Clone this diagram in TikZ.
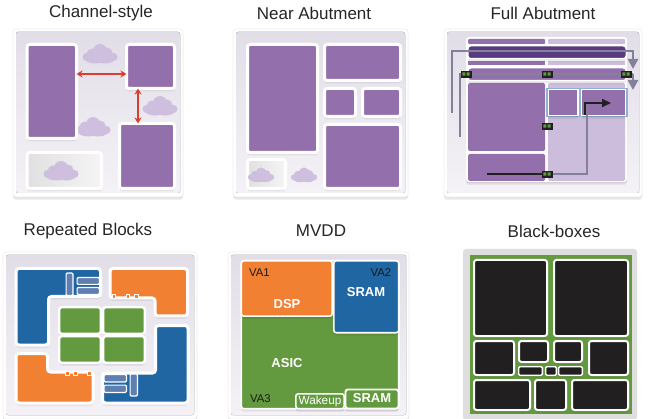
\documentclass[tikz,border=0pt]{standalone}
\usepackage{fontspec}
\setmainfont{Liberation Sans}
\usetikzlibrary{shadows,arrows.meta}
\definecolor{cpur}{HTML}{9370AC}
\definecolor{cdark}{HTML}{573A80}
\definecolor{clight}{HTML}{CDBDDC}
\definecolor{cblue}{HTML}{1F66A3}
\definecolor{cslate}{HTML}{5F7FB0}
\definecolor{corg}{HTML}{F28032}
\definecolor{cgrn}{HTML}{649A3F}
\definecolor{cblk}{HTML}{221F20}
\definecolor{cred}{HTML}{E03C2E}
\definecolor{ccld}{HTML}{CDBFDD}
\definecolor{cwire}{HTML}{85809A}
\definecolor{ctop}{HTML}{E2DEE8}
\definecolor{cbot}{HTML}{F4F2F6}
\definecolor{cframeb}{HTML}{8FB3CF}
\tikzset{
  softshadow/.style={general shadow={fill=black,opacity=.06,shadow yshift=-3pt},general shadow={fill=black,opacity=.08,shadow yshift=-1.5pt}},
  frame/.style={fill=white,draw=black!6,line width=.8pt,rounded corners=3pt,softshadow},
  blk/.style={draw=white,line width=3pt,rounded corners=2.5pt,inner sep=0pt,outer sep=0pt,softshadow},
  purp/.style={blk,fill=cpur},
  graybox/.style={blk,left color=black!12,right color=black!4},
  dark/.style={blk,fill=cblk,line width=2pt},
  thindark/.style={dark,line width=1.4pt,rounded corners=1.2pt},
  poly/.style={draw=white,line width=3pt,rounded corners=3pt,softshadow},
  mini/.style={draw=white,fill=cslate,line width=1.2pt,rounded corners=1pt,inner sep=0pt,outer sep=0pt},
  tab/.style={draw=white,fill=corg,line width=.8pt,inner sep=0pt,minimum size=3.6pt},
  title/.style={inner sep=0pt,text=black!85,font=\fontsize{17}{18}\selectfont},
  va/.style={inner sep=0pt,text=black!90,font=\fontsize{11.3}{12}\selectfont},
  wlab/.style={inner sep=0pt,text=white,font=\bfseries\fontsize{13}{14}\selectfont},
  redarrow/.style={cred,line width=1.2pt,{Stealth[length=6pt,width=7pt]}-{Stealth[length=6pt,width=7pt]}},
  wire/.style={cwire,line width=2.8pt},
  wirearrow/.style={wire,-{Triangle[length=10pt,width=10pt]}},
  blackwire/.style={cblk,line width=1.9pt},
  swb/.style={draw=cblk,fill=cblk,inner sep=0pt,minimum width=10pt,minimum height=5.6pt,outer sep=0pt},
  cell/.style={blk,fill=cpur,line width=1.2pt,rounded corners=0pt},
}
% [style]{name}{x1}{y1}{x2}{y2}: box by outer extents of its border
\newcommand\bx[6][purp]{\node[#1,minimum width={(#5-#3)*1pt-\pgflinewidth},minimum height={(#6-#4)*1pt-\pgflinewidth}] (#2) at ({(#3+#5)/2},{(#4+#6)/2}) {};}
\newcommand\cld[3][1]{\begin{scope}[shift={(#2,#3)},scale=#1]
  \fill[ccld] (0,-3) circle[radius=7] (-8,0) circle[radius=5.5] (7,-1) circle[radius=5.5] (-5,3.5) ellipse[x radius=11,y radius=6] (5,3.5) ellipse[x radius=11,y radius=6] (-13.5,3) circle[radius=4] (13.5,3) circle[radius=4];
\end{scope}}
\newcommand\swi[3]{\node[swb] (#1) at (#2,#3) {};
  \fill[cgrn] (#2-3.6,#3-1.7) rectangle (#2-.7,#3+1.7) (#2+.7,#3-1.7) rectangle (#2+3.6,#3+1.7);}
\newcommand\panel[4]{\draw[frame] (#1,#2) rectangle (#3,#4);
  \fill[rounded corners=2pt,top color=ctop,bottom color=cbot] (#1+3,#2+3) rectangle (#3-3,#4-4);}
\begin{document}
\begin{tikzpicture}[x=1pt,y=-1pt]
\useasboundingbox (0,0) rectangle (650,419);
\fill[white] (0,0) rectangle (650,419);
% ---- titles
\node[title] (t1) at (101,13) {Channel-style};
\node[title] (t2) at (314,13) {Near Abutment};
\node[title] (t3) at (543,13) {Full Abutment};
\node[title] (t4) at (88,231) {Repeated Blocks};
\node[title] (t5) at (321,231) {MVDD};
\node[title] (t6) at (554,231) {Black-boxes};
% ---- Channel-style
\panel{13}{29}{183}{197}
\cld{100}{54}\cld{160}{106}\cld{93}{127}
\bx{a1}{25.5}{43}{78}{140}
\bx{a2}{125}{43}{176}{90}
\bx{a3}{118}{122}{176}{190}
\bx[graybox]{a4}{25.5}{151}{103}{190}
\cld{61}{171}
\coordinate (a1r) at (a1.east |- 0,74);
\coordinate (a2l) at (a2.west |- 0,74);
\coordinate (a2b) at (a2.south -| 138,0);
\coordinate (a3t) at (a3.north -| 138,0);
\draw[redarrow] (a1r) -- (a2l);
\draw[redarrow] (a2b) -- (a3t);
% ---- Near Abutment
\panel{233}{29}{408}{197}
\bx{b1}{246}{43}{319}{154}
\bx{b2}{323}{43}{402}{82}
\bx{b3}{323}{87}{357}{118}
\bx{b4}{361}{87}{402}{118}
\bx{b5}{323}{123}{402}{190}
\bx[graybox]{b6}{246}{158}{287}{190}
\cld[.75]{261}{175}\cld[.75]{304}{175}
% ---- Full Abutment
\panel{444}{29}{642}{197}
\fill[white,rounded corners=3pt,softshadow] (466,37) rectangle (627,182);
\fill[cpur,rounded corners=1pt] (468,39) rectangle (545,44);
\fill[clight,rounded corners=1pt] (548,39) rectangle (625,44);
\fill[cpur] (468,61) rectangle (545,65);
\fill[clight] (548,61) rectangle (625,65);
\fill[cpur,rounded corners=1.5pt] (468,83) rectangle (545,151);
\fill[cpur,rounded corners=1.5pt] (468,154) rectangle (545,181);
\fill[clight,rounded corners=1.5pt] (548,83) rectangle (625,181);
\bx[blk,fill=cdark,line width=1.5pt,rounded corners=3pt]{c1}{467}{45}{627}{59.5}
\bx[blk,fill=cpur,line width=1.5pt,rounded corners=3pt]{c2}{467}{67}{627}{81.5}
\fill[cframeb] (546,88) rectangle (627.5,117.5);
\bx[cell]{c3}{547.5}{89}{578.5}{116.5}
\bx[cell]{c4}{581}{89}{626}{116.5}
\coordinate (w1a) at (452,113);
\coordinate (w1b) at (452,51);
\coordinate (w1c) at (633,51);
\coordinate (w1d) at (633,69);
\draw[wirearrow] (w1a) -- (w1b) -- (w1c) -- (w1d);
\coordinate (w2a) at (460,137);
\coordinate (w2b) at (460,74);
\coordinate (w2c) at (633,74);
\coordinate (w2d) at (633,90);
\draw[wire] (w2a) -- (w2b) -- (w2c);
\draw[wirearrow] (w2c) -- (w2d);
\swi{s1}{466}{74}\swi{s2}{547}{74}\swi{s3}{626}{74}\swi{s4}{547}{126}
\coordinate (w3a) at (487,174);
\coordinate (w3c) at (587,174);
\coordinate (w3d) at (587,104);
\coordinate (w4a) at (585,115);
\coordinate (w4b) at (585,103);
\coordinate (w4c) at (611,103);
\draw[wire] (547,174) -- (w3c) -- (w3d);
\draw[blackwire] (w3a) -- (547,174);
\draw[blackwire,-{Triangle[length=9pt,width=8pt]}] (w4a) -- (w4b) -- (w4c);
\swi{s5}{547}{174}
% ---- Repeated Blocks
\panel{3}{252}{197}{419}
\draw[poly,fill=cblue] (16,268.5) -- (100.5,268.5) -- (100.5,296.5) -- (48.5,296.5) -- (48.5,345) -- (16,345) -- cycle;
\draw[poly,fill=corg] (110,268.5) -- (187.5,268.5) -- (187.5,316) -- (155,316) -- (155,298) -- (110,298) -- cycle;
\draw[poly,fill=cblue] (155.5,325.5) -- (188,325.5) -- (188,403) -- (102.5,403) -- (102.5,373) -- (155.5,373) -- cycle;
\draw[poly,fill=corg] (16,353.5) -- (47.5,353.5) -- (47.5,372) -- (93,372) -- (93,403) -- (16,403) -- cycle;
\bx[blk,fill=cgrn,line width=2.4pt]{d1}{58}{306}{102}{335}
\bx[blk,fill=cgrn,line width=2.4pt]{d2}{102}{306}{146}{335}
\bx[blk,fill=cgrn,line width=2.4pt]{d3}{58}{335}{102}{364}
\bx[blk,fill=cgrn,line width=2.4pt]{d4}{102}{335}{146}{364}
\bx[mini]{e1}{65.5}{272.5}{73.5}{296}
\bx[mini]{e2}{76.5}{277}{100}{285}
\bx[mini]{e3}{76.5}{287}{100}{295}
\bx[mini]{e4}{103.5}{374}{127}{382.5}
\bx[mini]{e5}{103.5}{384.5}{127}{393}
\bx[mini]{e6}{129.5}{373.5}{138}{396.5}
\node[tab] (f1) at (114,296.5) {};\node[tab] (f2) at (128,296.5) {};\node[tab] (f3) at (136.5,296.5) {};
\node[tab] (f4) at (67.5,373.5) {};\node[tab] (f5) at (75.5,373.5) {};\node[tab] (f6) at (89.5,373.5) {};
% ---- MVDD
\panel{228}{252}{409}{419}
\bx[blk,fill=cgrn,line width=1.6pt]{g1}{240.5}{260}{399.5}{409.5}
\bx[blk,fill=corg,line width=1.6pt]{g2}{240.5}{260}{333}{317}
\bx[blk,fill=cblue,line width=1.6pt]{g3}{333}{260}{399.5}{333.5}
\bx[blk,fill=cgrn,line width=1.6pt]{g4}{295}{393}{345}{409.5}
\bx[blk,fill=cgrn,line width=1.9pt]{g5}{344.5}{388.5}{399.5}{409.5}
\node[va] (v1) at (259.5,272.5) {VA1};
\node[va] (v2) at (381,272.5) {VA2};
\node[va] (v3) at (260.5,399) {VA3};
\node[wlab] (l1) at (366,292) {SRAM};
\node[wlab] (l2) at (287,304) {DSP};
\node[wlab] (l3) at (287,363) {ASIC};
\node[wlab] (l4) at (372,398.5) {SRAM};
\node[inner sep=0pt,text=white,font=\fontsize{11.8}{12}\selectfont] (l5) at (320,401) {Wakeup};
% ---- Black-boxes
\fill[black!13,rounded corners=3pt] (463,249) rectangle (637,420);
\fill[cgrn] (470,255) rectangle (632,414);
\bx[dark]{h1}{473}{259}{548}{337}
\bx[dark]{h2}{553}{259}{629}{337}
\bx[dark]{h3}{473}{340}{515}{376}
\bx[dark]{h4}{518}{340}{549}{363}
\bx[dark]{h5}{553}{340}{583}{363}
\bx[dark]{h6}{588}{340}{629}{376}
\bx[thindark]{h7}{518}{366}{543}{376}
\bx[thindark]{h8}{545}{366}{557}{376}
\bx[thindark]{h9}{558}{366}{583}{376}
\bx[dark]{h10}{473}{379}{531}{411}
\bx[dark]{h11}{534}{379}{567}{411}
\bx[dark]{h12}{571}{379}{629}{411}
\end{tikzpicture}
\end{document}
